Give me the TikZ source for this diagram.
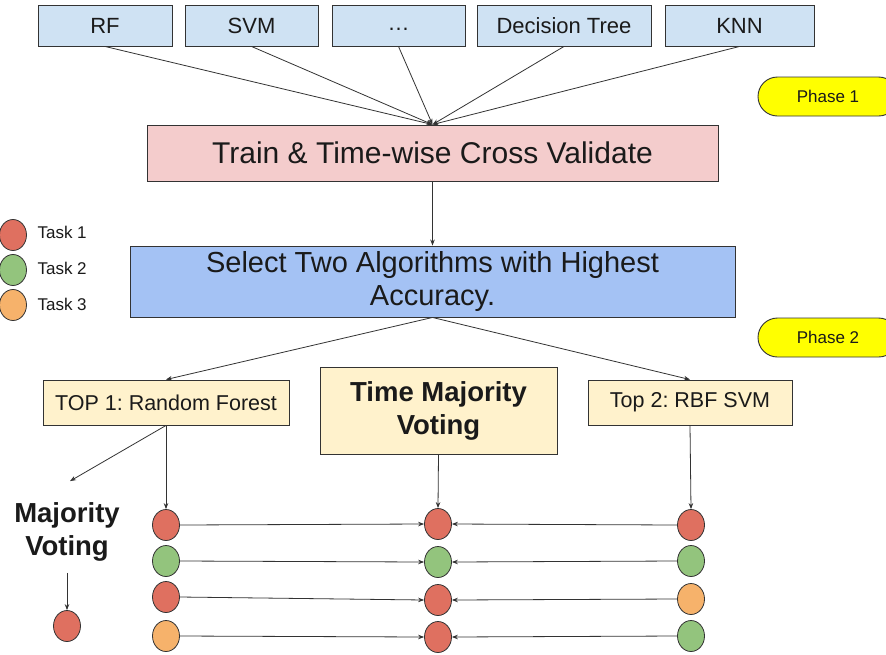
\documentclass[tikz,border=0pt]{standalone}
\usepackage{fontspec}
\setmainfont{Liberation Sans}
\frenchspacing
\usetikzlibrary{arrows.meta,shapes.geometric}
\definecolor{boxblue}{HTML}{CFE2F3}
\definecolor{trainpink}{HTML}{F4CCCC}
\definecolor{selblue}{HTML}{A4C2F4}
\definecolor{topyellow}{HTML}{FFF2CC}
\definecolor{phaseyellow}{HTML}{FFFF00}
\definecolor{tred}{HTML}{DF7060}
\definecolor{tgreen}{HTML}{93C47D}
\definecolor{torange}{HTML}{F6B26B}
\definecolor{edgegray}{HTML}{333333}
\definecolor{txt}{HTML}{1A1A1A}
\tikzset{
  boxbase/.style={draw=edgegray, line width=0.9pt, inner sep=0pt, text=txt},
  algbox/.style={boxbase, fill=boxblue, minimum height=41, font=\fontsize{22}{26}\selectfont},
  topbox/.style={boxbase, fill=topyellow, minimum height=45, font=\fontsize{21.5}{26}\selectfont},
  phasebox/.style={boxbase, fill=phaseyellow, rounded corners=19.5pt, minimum width=140, minimum height=39, font=\fontsize{17}{20}\selectfont},
  task/.style={ellipse, draw=edgegray, line width=0.8pt, minimum width=27, minimum height=31, inner sep=0pt},
  arr/.style={draw=edgegray, line width=0.8pt, -{Stealth[length=6pt,width=4.5pt]}},
  legtxt/.style={anchor=west, text=txt, font=\fontsize{17}{20}\selectfont},
}
\begin{document}
\begin{tikzpicture}[x=1pt,y=-1pt]
\useasboundingbox (0,0) rectangle (886,654);
\clip (0,0) rectangle (886,654);
\fill[white] (0,0) rectangle (886,654);

% algorithm boxes
\node[algbox, minimum width=134] (rf)  at (105,25.5) {RF};
\node[algbox, minimum width=133] (svm) at (251.5,25.5) {SVM};
\node[algbox, minimum width=133] (dots) at (398.5,25.5) {\strut …};
\node[algbox, minimum width=174] (dt)  at (564,25.5) {Decision Tree};
\node[algbox, minimum width=149] (knn) at (739.5,25.5) {KNN};

% train
\node[boxbase, fill=trainpink, minimum width=571, minimum height=56, font=\fontsize{30}{34}\selectfont] (train) at (432.5,153) {Train \& Time-wise Cross Validate};

\foreach \n in {rf,svm,dots,dt,knn}{
  \draw[arr] (\n.south) -- (train.north);
}

% select
\node[boxbase, fill=selblue, minimum width=605, minimum height=71, align=center, font=\fontsize{29}{33}\selectfont] (sel) at (432.5,281.5) {Select Two Algorithms with Highest\\Accuracy.};
\draw[arr] (train.south) -- (sel.north);

% phases
\node[phasebox] (ph1) at (828,96.5) {Phase 1};
\node[phasebox] (ph2) at (828,337.5) {Phase 2};

% legend
\node[task, fill=tred]    (l1) at (13,235) {};
\node[task, fill=tgreen]  (l2) at (13,270) {};
\node[task, fill=torange] (l3) at (13,305) {};
\node[legtxt] (lt1) at (34,232) {Task 1};
\node[legtxt] (lt2) at (34,268) {Task 2};
\node[legtxt] (lt3) at (34,304) {Task 3};

% phase 2 boxes
\node[topbox, minimum width=246] (top1) at (166,402.5) {TOP 1: Random Forest};
\node[topbox, minimum width=204] (top2) at (690,402.5) {Top 2: RBF SVM};
\node[boxbase, fill=topyellow, minimum width=237, minimum height=87, align=center, font=\bfseries\fontsize{27.5}{33}\selectfont] (tmv) at (438.5,410.5) {Time Majority\\Voting};
\draw[arr] (sel.south) -- (top1.north);
\draw[arr] (sel.south) -- (top2.north);

% majority voting
\node[align=center, text=txt, font=\bfseries\fontsize{27.5}{33}\selectfont] (mv) at (67,532) {Majority\\Voting};
\node[task, fill=tred] (m1) at (67,626) {};
\draw[arr] (top1.south) -- ([xshift=3pt,yshift=18pt]mv.north);
\draw[arr] ([yshift=-8pt]mv.south) -- (m1.north);

% task circles
\node[task, fill=tred]    (a1) at (166,525) {};
\node[task, fill=tgreen]  (a2) at (166,561) {};
\node[task, fill=tred]    (a3) at (166,597) {};
\node[task, fill=torange] (a4) at (166,636) {};
\node[task, fill=tred]    (b1) at (438,524) {};
\node[task, fill=tgreen]  (b2) at (438,562) {};
\node[task, fill=tred]    (b3) at (438,600) {};
\node[task, fill=tred]    (b4) at (438,637) {};
\node[task, fill=tred]    (c1) at (691,525) {};
\node[task, fill=tgreen]  (c2) at (691,561) {};
\node[task, fill=torange] (c3) at (691,599) {};
\node[task, fill=tgreen]  (c4) at (691,636) {};

\draw[arr] (top1.south) -- (a1.north);
\draw[arr] (tmv.south) -- (b1.north);
\draw[arr] (top2.south) -- (c1.north);

\foreach \i in {1,2,3,4}{
  \draw[arr] (a\i.east) -- (b\i.west);
  \draw[arr] (c\i.west) -- (b\i.east);
}
\end{tikzpicture}
\end{document}
